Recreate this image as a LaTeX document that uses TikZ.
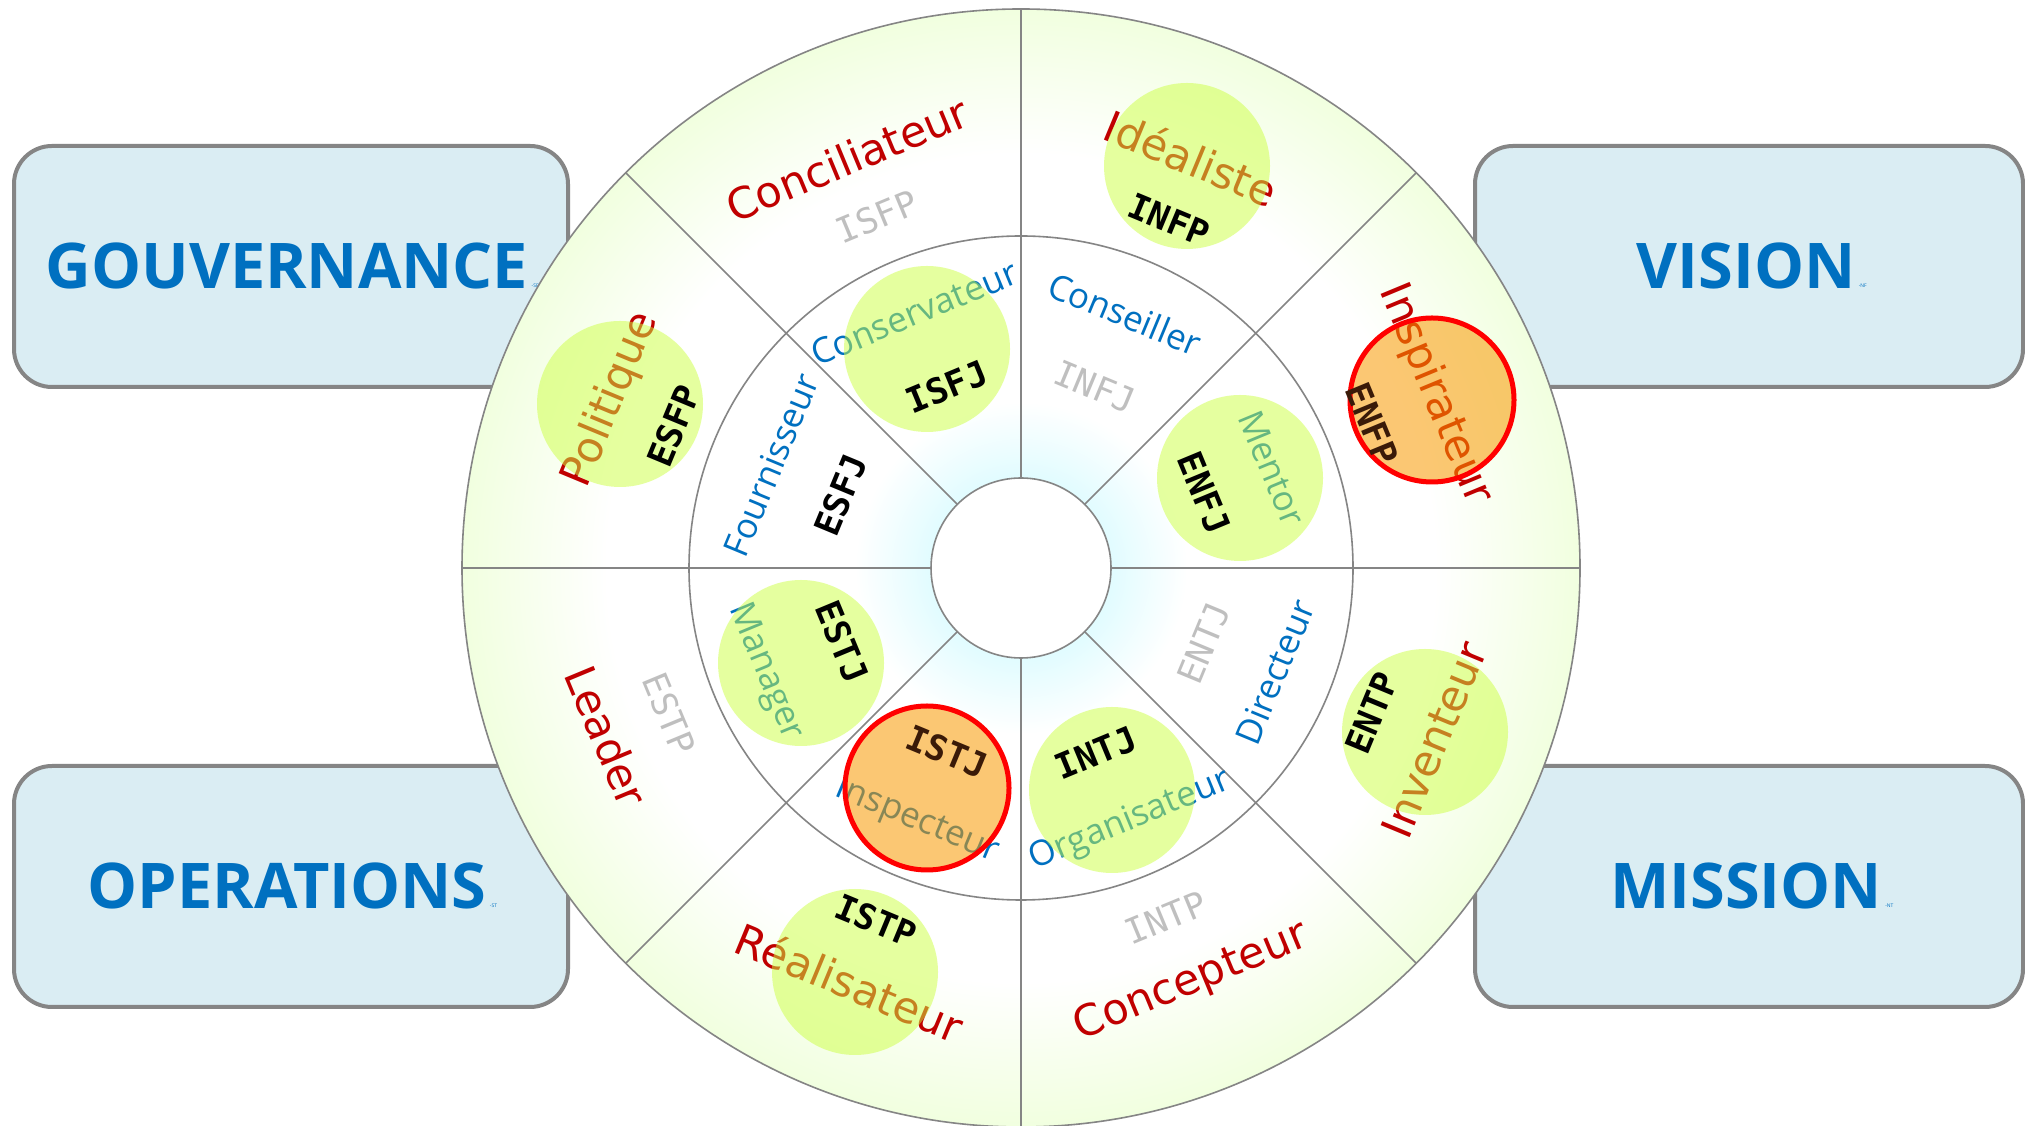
\documentclass[tikz,border=0pt]{standalone}
\usepackage{fontspec}
\setmainfont{Open Sans}
\newfontfamily\djv{DejaVu Sans}
\newfontfamily\mono{DejaVu Sans Mono}
\newfontfamily\osans{Open Sans}
\definecolor{boxfill}{HTML}{DAEDF3}
\definecolor{boxline}{HTML}{858585}
\definecolor{boxtext}{HTML}{0070C0}
\definecolor{wheelgray}{HTML}{858585}
\definecolor{redlab}{HTML}{C00000}
\definecolor{bluelab}{HTML}{0070C0}
\definecolor{graycode}{HTML}{BFBFBF}
\definecolor{browncode}{HTML}{3A1A08}
\definecolor{greenov}{HTML}{CDFF41}
\definecolor{orangeov}{HTML}{F99A00}
\definecolor{ringgreen}{HTML}{F1FFDF}
\definecolor{glowc}{HTML}{E2FCFF}
\pgfdeclareradialshading{outerring}{\pgfpoint{0bp}{0bp}}{color(0bp)=(white); color(18.5bp)=(white); color(25bp)=(ringgreen); color(50bp)=(ringgreen)}
\pgfdeclareradialshading{innerglow}{\pgfpoint{0bp}{0bp}}{color(0bp)=(glowc); color(7bp)=(glowc); color(12.5bp)=(white); color(50bp)=(white)}
\tikzset{
  box/.style={draw=boxline, line width=4pt, fill=boxfill, rounded corners=38pt, inner sep=0},
  boxlab/.style={text=boxtext, font=\osans\bfseries\fontsize{63}{70}\selectfont, inner sep=0},
  boxsub/.style={text=boxtext, font=\osans\fontsize{5}{6}\selectfont, inner sep=0, anchor=base west},
  outerlab/.style={text=redlab, font=\djv\fontsize{43}{50}\selectfont, inner sep=0},
  innerlab/.style={text=bluelab, font=\osans\fontsize{35}{40}\selectfont, inner sep=0},
  codeb/.style={text=black, font=\mono\bfseries\fontsize{35}{40}\selectfont, inner sep=0},
  coder/.style={text=browncode, font=\mono\bfseries\fontsize{35}{40}\selectfont, inner sep=0},
  codeg/.style={text=graycode, font=\mono\fontsize{35}{40}\selectfont, inner sep=0},
  greenspot/.style={circle, fill=greenov, fill opacity=0.5, minimum size=166pt, inner sep=0},
  orangespot/.style={circle, fill=orangeov, fill opacity=0.55, draw=red, draw opacity=1, line width=5pt, minimum size=164pt, inner sep=0},
  wline/.style={draw=wheelgray, line width=1.6pt}
}
\begin{document}
\begin{tikzpicture}[x=1pt,y=1pt]
\fill[white] (0,0) rectangle (2025,1126);
\useasboundingbox (0,0) rectangle (2025,1126);
% boxes
\node[box, minimum width=554pt, minimum height=241pt] (govbox) at (291,859.5) {};
\node[box, minimum width=548pt, minimum height=241pt] (visbox) at (1749,859.5) {};
\node[box, minimum width=554pt, minimum height=241pt] (opbox) at (291,239.5) {};
\node[box, minimum width=548pt, minimum height=241pt] (misbox) at (1749,239.5) {};
\node[boxlab] (gov) at (287,860) {GOUVERNANCE};
\node[boxlab] (vis) at (1746,860) {VISION};
\node[boxlab] (op) at (287,240) {OPERATIONS};
\node[boxlab] (mis) at (1746,240) {MISSION};
\node[boxsub] (govs) at ([xshift=3pt,yshift=1pt]gov.base east) {-SF};
\node[boxsub] (viss) at ([xshift=3pt,yshift=1pt]vis.base east) {-NF};
\node[boxsub] (ops) at ([xshift=3pt,yshift=1pt]op.base east) {-ST};
\node[boxsub] (miss) at ([xshift=3pt,yshift=1pt]mis.base east) {-NT};
% wheel
\begin{scope}[shift={(1021,558)}]
  \shade[shading=outerring] (0,0) circle[radius=559];
  \shade[shading=innerglow] (0,0) circle[radius=332];
  \draw[wline] (0,0) circle[radius=559];
  \draw[wline] (0,0) circle[radius=332];
  \draw[wline, fill=white] (0,0) circle[radius=90];
  \foreach \a in {0,45,...,315} \draw[wline] (\a:90) -- (\a:559);
  % outer labels
  \node[outerlab, rotate=22.5] (l1) at (-174,409) {Conciliateur};
  \node[outerlab, rotate=-22.5] (l2) at (170,410) {Idéaliste};
  \node[outerlab, rotate=-67.5] (l3) at (414,174) {Inspirateur};
  \node[outerlab, rotate=67.5] (l4) at (-410,168) {Politique};
  \node[outerlab, rotate=-67.5] (l5) at (-414,-168) {Leader};
  \node[outerlab, rotate=-22.5] (l6) at (-171,-414) {Réalisateur};
  \node[outerlab, rotate=22.5] (l7) at (170,-414) {Concepteur};
  \node[outerlab, rotate=67.5] (l8) at (413,-172) {Inventeur};
  % inner labels
  \node[innerlab, rotate=22.5] (m1) at (-107,255) {Conservateur};
  \node[innerlab, rotate=-22.5] (m2) at (104,254) {Conseiller};
  \node[innerlab, rotate=-67.5] (m3) at (251,100) {Mentor};
  \node[innerlab, rotate=67.5] (m4) at (-250,103) {Fournisseur};
  \node[innerlab, rotate=-67.5] (m5) at (-256,-104) {Manager};
  \node[innerlab, rotate=-22.5] (m6) at (-104,-253) {Inspecteur};
  \node[innerlab, rotate=22.5] (m7) at (109,-253) {Organisateur};
  \node[innerlab, rotate=67.5] (m8) at (254,-104) {Directeur};
  % spots
  \node[greenspot] (s1) at (166,402) {};
  \node[greenspot] (s2) at (-94,219) {};
  \node[greenspot] (s3) at (-401,164) {};
  \node[greenspot] (s4) at (219,90) {};
  \node[orangespot] (s5) at (411,168) {};
  \node[greenspot] (s6) at (-220,-95) {};
  \node[orangespot] (s7) at (-94,-220) {};
  \node[greenspot] (s8) at (91,-222) {};
  \node[greenspot] (s9) at (404,-164) {};
  \node[greenspot] (s10) at (-166,-404) {};
  % outer codes
  \node[codeg, rotate=22.5] (c1) at (-144,351) {ISFP};
  \node[codeb, rotate=-22.5] (c2) at (148,348) {INFP};
  \node[coder, rotate=-67.5] (c3) at (351,144) {ENFP};
  \node[codeb, rotate=67.5] (c4) at (-347,142) {ESFP};
  \node[codeg, rotate=-67.5] (c5) at (-352,-146) {ESTP};
  \node[codeb, rotate=-22.5] (c6) at (-145,-353) {ISTP};
  \node[codeg, rotate=22.5] (c7) at (145,-350) {INTP};
  \node[codeb, rotate=67.5] (c8) at (351,-145) {ENTP};
  % inner codes
  \node[codeb, rotate=22.5] (d1) at (-74,181) {ISFJ};
  \node[codeg, rotate=-22.5] (d2) at (74,181) {INFJ};
  \node[codeb, rotate=-67.5] (d3) at (183,75) {ENFJ};
  \node[codeb, rotate=67.5] (d4) at (-180,73) {ESFJ};
  \node[codeb, rotate=-67.5] (d5) at (-179,-74) {ESTJ};
  \node[coder, rotate=-22.5] (d6) at (-74,-184) {ISTJ};
  \node[codeb, rotate=22.5] (d7) at (75,-185) {INTJ};
  \node[codeg, rotate=67.5] (d8) at (183,-75) {ENTJ};
\end{scope}
\end{tikzpicture}
\end{document}
